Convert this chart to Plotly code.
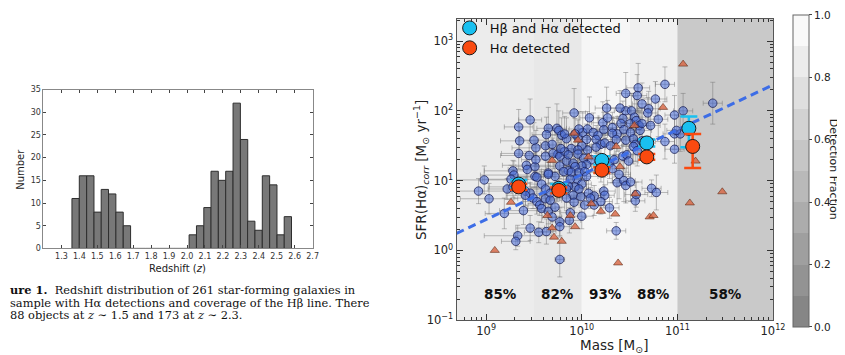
import numpy as np
import plotly.graph_objects as go

W, H = 845, 355

# ---------------- Left panel: redshift histogram ----------------
z_centers = [1.379, 1.420, 1.461, 1.502, 1.542, 1.583, 1.624, 1.665,
             1.706, 1.746, 1.787, 1.828, 1.869, 1.910, 1.950, 1.991,
             2.032, 2.073, 2.114, 2.154, 2.195, 2.236, 2.277, 2.318,
             2.358, 2.399, 2.440, 2.481, 2.522, 2.562]
z_counts = [11, 16, 16, 8, 13, 12, 8, 5,
            0, 0, 0, 0, 0, 0, 0, 0,
            3, 5, 9, 17, 15, 17, 32, 24, 6, 4, 16, 14, 3, 7]
z_bin_width = 0.0408
z_ticks = [1.3, 1.4, 1.5, 1.6, 1.7, 1.8, 1.9, 2.0, 2.1, 2.2, 2.3, 2.4, 2.5, 2.6, 2.7]
count_ticks = [0, 5, 10, 15, 20, 25, 30, 35]
caption_lines = [
    "<b>ure 1.</b>  Redshift distribution of 261 star-forming galaxies in",
    "sample with Hα detections and coverage of the Hβ line. There",
    "88 objects at <i>z</i> ∼ 1.5 and 173 at <i>z</i> ∼ 2.3.",
]

# ---------------- Right panel: SFR vs stellar mass ----------------
gal_logm = [
    9.46, 9.34, 9.74, 9.35, 9.52, 9.62, 9.69, 9.34, 9.45, 9.75,
    9.42, 9.51, 9.28, 9.29, 9.65, 9.72, 9.51, 8.98, 8.92, 9.03,
    9.22, 9.28, 9.41, 9.46, 9.58, 9.62, 9.67, 9.74, 9.49, 9.53,
    9.56, 9.58, 9.39, 9.19, 9.65, 9.72, 9.46, 9.55, 9.63, 9.77,
    9.33, 9.31, 9.77, 9.26, 9.52, 9.65, 9.63, 9.76, 9.79, 9.84,
    9.89, 9.96, 10.01, 10.06, 10.12, 10.17, 10.22, 10.27, 10.26, 10.32,
    10.37, 10.08, 9.92, 9.62, 9.70, 9.77, 9.84, 9.91, 9.77, 9.86,
    9.65, 9.53, 9.43, 9.50, 10.46, 10.59, 10.58, 10.46, 10.52, 10.55,
    10.43, 10.41, 10.51, 10.57, 10.60, 10.44, 10.51, 10.61, 10.32, 10.23,
    9.97, 9.93, 9.82, 10.05, 10.15, 10.20, 10.24, 10.30, 10.36, 10.46,
    10.54, 10.56, 10.15, 10.06, 10.00, 9.96, 9.82, 9.78, 9.86, 9.96,
    10.02, 10.10, 10.05, 10.00, 9.93, 9.81, 9.89, 9.97, 10.03, 10.05,
    9.95, 9.88, 10.00, 9.93, 9.86, 9.91, 9.99, 10.07, 10.13, 10.23,
    10.24, 10.03, 10.13, 10.20, 10.29, 10.00, 9.88, 9.87, 10.36, 10.39,
    10.37, 10.44, 10.46, 10.51, 10.56, 10.57, 10.20, 10.29, 10.34, 10.32,
    10.43, 10.47, 10.49, 10.54, 10.58, 10.63, 9.69, 9.77, 9.92, 10.73,
    10.78, 9.41, 9.62, 9.67, 9.84, 10.09, 9.97, 9.84, 10.87, 11.37,
    10.77, 10.63, 10.70, 10.69, 10.80, 10.97, 11.06, 10.87, 10.97, 11.03,
    10.99, 10.97, 10.72, 10.63, 10.40,
]
gal_logsfr = [
    1.87, 1.77, 1.75, 1.57, 1.47, 1.50, 1.52, 1.39, 1.36, 1.38,
    1.22, 1.20, 1.14, 1.08, 1.11, 1.06, 1.06, 1.01, 0.85, 0.74,
    0.88, 0.91, 0.85, 0.82, 0.95, 0.88, 0.82, 0.85, 0.75, 0.70,
    0.65, 0.60, 0.57, 0.53, 0.56, 0.62, 0.32, 0.26, 0.27, 0.41,
    0.21, 0.13, -0.13, 1.02, 1.30, 1.75, 1.66, 1.72, 1.65, 1.60,
    1.46, 1.62, 1.69, 1.74, 1.69, 1.65, 1.83, 1.90, 2.04, 1.76,
    1.67, 1.90, 1.97, 1.35, 1.39, 1.35, 1.28, 1.25, 1.21, 1.14,
    1.09, 1.05, 1.16, 1.58, 2.25, 2.33, 2.22, 2.00, 2.00, 1.91,
    1.89, 1.82, 1.82, 1.86, 1.79, 1.73, 1.69, 1.72, 1.68, 1.73,
    1.74, 1.67, 1.67, 1.59, 1.59, 1.52, 1.54, 1.50, 1.59, 1.58,
    1.60, 1.52, 1.48, 1.44, 1.50, 1.44, 1.42, 1.46, 1.37, 1.38,
    1.32, 1.30, 1.23, 1.21, 1.20, 1.13, 1.12, 1.12, 1.13, 1.06,
    1.02, 1.02, 0.95, 0.91, 0.92, 0.79, 0.77, 0.82, 0.78, 0.85,
    0.79, 0.65, 0.65, 0.70, 0.61, 0.49, 0.54, 0.43, 0.28, 1.09,
    0.97, 1.00, 0.93, 0.98, 0.71, 0.80, 1.18, 1.25, 1.30, 1.17,
    1.35, 1.37, 1.28, 1.49, 1.43, 1.57, 0.48, 0.34, 0.69, 0.89,
    0.83, 0.79, 0.74, 0.72, 0.75, 0.75, 0.88, 0.88, 2.38, 2.11,
    2.17, 2.10, 2.03, 1.97, 1.88, 1.94, 2.00, 1.56, 1.67, 1.67,
    1.72, 1.45, 1.79, 1.82, 2.04,
]
gal_dm = [
    .12, .15, .10, .20, .25, .15, .12, .18, .30, .10,
    .25, .20, .30, .35, .15, .12, .20, .30, .35, .30,
    .20, .25, .18, .15, .12, .15, .10, .12, .20, .15,
    .12, .15, .25, .20, .12, .10, .15, .15, .10, .10,
    .35, .15, .05, .30, .15, .12, .15, .10, .12, .10,
    .15, .10, .12, .10, .15, .10, .12, .10, .12, .10,
    .12, .10, .12, .15, .12, .10, .12, .10, .12, .10,
    .15, .20, .20, .15, .10, .12, .10, .12, .10, .12,
    .10, .12, .10, .12, .10, .12, .10, .12, .10, .12,
    .10, .12, .10, .12, .10, .12, .10, .12, .10, .12,
    .10, .12, .10, .12, .10, .12, .10, .12, .10, .12,
    .10, .12, .10, .12, .10, .12, .10, .12, .10, .12,
    .10, .12, .10, .12, .10, .12, .10, .12, .10, .12,
    .10, .12, .10, .12, .10, .12, .10, .12, .10, .12,
    .10, .12, .10, .12, .10, .12, .10, .12, .10, .12,
    .10, .12, .10, .12, .10, .12, .10, .12, .10, .10,
    .12, .20, .15, .12, .10, .12, .10, .12, .10, .10,
    .12, .10, .12, .10, .10, .10, .10, .10, .12, .10,
    .10, .10, .10, .12, .10,
]
gal_dsfr = [
    .30, .25, .35, .20, .25, .20, .25, .22, .18, .20,
    .20, .18, .15, .20, .15, .18, .15, .20, .18, .22,
    .15, .15, .20, .15, .18, .20, .15, .15, .15, .18,
    .15, .20, .20, .22, .18, .15, .18, .15, .18, .20,
    .15, .12, .25, .20, .25, .30, .25, .28, .25, .30,
    .20, .25, .30, .25, .28, .25, .30, .25, .30, .22,
    .25, .30, .35, .20, .22, .20, .18, .20, .18, .20,
    .18, .15, .20, .25, .30, .35, .30, .28, .25, .30,
    .25, .22, .25, .30, .25, .22, .25, .28, .22, .25,
    .25, .22, .25, .22, .20, .22, .20, .25, .22, .25,
    .22, .25, .20, .18, .20, .22, .20, .18, .20, .18,
    .20, .18, .20, .18, .15, .18, .15, .18, .15, .18,
    .15, .18, .15, .18, .15, .18, .15, .18, .15, .20,
    .15, .18, .15, .18, .15, .18, .15, .18, .12, .35,
    .30, .30, .25, .28, .15, .18, .20, .22, .25, .20,
    .28, .25, .22, .25, .22, .25, .18, .15, .15, .12,
    .25, .15, .18, .15, .18, .15, .15, .18, .25, .30,
    .25, .30, .25, .22, .25, .28, .25, .25, .22, .25,
    .22, .20, .25, .22, .25,
]

tri_logm = [9.69, 9.26, 9.64, 9.69, 9.71, 9.09, 9.79, 9.88, 9.93, 10.10,
            10.20, 10.35, 10.38, 10.56, 10.71, 10.75, 11.13, 9.92, 9.96, 10.07,
            10.36, 10.40, 10.55, 11.06, 10.85, 11.19, 11.47]
tri_logsfr = [1.29, 0.69, 0.50, 0.32, 0.19, 0.00, 0.13, 0.50, 0.34, 0.67,
              0.56, 0.52, -0.18, 0.81, 0.48, 0.50, 0.68, 1.68, 1.58, 1.34,
              1.49, 1.20, 1.79, 2.67, 2.05, 1.28, 0.84]

hb_bin_logm = [9.34, 9.76, 10.21, 10.68, 11.12]
hb_bin_logsfr = [0.95, 0.89, 1.29, 1.54, 1.75]
hb_err_up = [0.06, 0.06, 0.06, 0.05, 0.17]
hb_err_dn = [0.06, 0.06, 0.06, 0.05, 0.27]
ha_bin_logm = [9.34, 9.76, 10.21, 10.68, 11.16]
ha_bin_logsfr = [0.91, 0.86, 1.15, 1.34, 1.49]
ha_err_up = [0.04, 0.04, 0.04, 0.04, 0.18]
ha_err_dn = [0.04, 0.04, 0.04, 0.04, 0.31]

fit_slope = 0.643
fit_logsfr_at_1e10 = 1.086

band_edges_logm = [8.8, 9.5, 10.0, 10.5, 11.0, 12.0]
detection_fraction = [0.85, 0.82, 0.93, 0.88, 0.58]
pct_labels = ["85%", "82%", "93%", "88%", "58%"]
pct_label_logsfr = -0.63

x_range_log = [8.69, 12.0]
y_range_log = [-1.0, 3.32]

FONT = "DejaVu Sans"


def gray_of(frac):
    g = int(round(255 * (0.5 + 0.5 * frac)))
    return f"rgb({g},{g},{g})"


def px_x(p):
    return p / W


def px_y(p):
    return 1 - p / H


fig = go.Figure()

# ---- histogram ----
fig.add_trace(go.Bar(
    x=z_centers, y=z_counts, width=z_bin_width,
    marker=dict(color="#787878", line=dict(color="#2e2e2e", width=1)),
    xaxis="x", yaxis="y", showlegend=False, hoverinfo="x+y"))

# ---- scatter of individual galaxies ----
m = 10 ** np.array(gal_logm)
s = 10 ** np.array(gal_logsfr)
dm = np.array(gal_dm)
ds = np.array(gal_dsfr)
fig.add_trace(go.Scatter(
    x=m, y=s, mode="markers", xaxis="x2", yaxis="y2", showlegend=False,
    marker=dict(size=8.5, color="rgba(70,105,215,0.55)",
                line=dict(color="rgba(25,30,80,0.75)", width=1)),
    error_x=dict(type="data", symmetric=False,
                 array=10 ** (np.array(gal_logm) + dm) - m,
                 arrayminus=m - 10 ** (np.array(gal_logm) - dm),
                 color="rgba(110,110,110,0.45)", thickness=1, width=2.5),
    error_y=dict(type="data", symmetric=False,
                 array=10 ** (np.array(gal_logsfr) + ds) - s,
                 arrayminus=s - 10 ** (np.array(gal_logsfr) - ds),
                 color="rgba(110,110,110,0.45)", thickness=1, width=2.5),
))

fig.add_trace(go.Scatter(
    x=10 ** np.array(tri_logm), y=10 ** np.array(tri_logsfr), mode="markers",
    xaxis="x2", yaxis="y2", showlegend=False,
    marker=dict(symbol="triangle-up", size=8, color="rgba(215,100,65,0.8)",
                line=dict(color="rgba(90,40,20,0.7)", width=0.8))))

# ---- main-sequence fit line ----
fit_logm = np.array(x_range_log)
fit_logsfr = fit_logsfr_at_1e10 + fit_slope * (fit_logm - 10.0)
fig.add_trace(go.Scatter(
    x=10 ** fit_logm, y=10 ** fit_logsfr, mode="lines", xaxis="x2", yaxis="y2",
    showlegend=False, hoverinfo="skip",
    line=dict(color="#3d6de6", width=3, dash="8px,5px")))

# ---- binned values ----
hb_y = 10 ** np.array(hb_bin_logsfr)
fig.add_trace(go.Scatter(
    x=10 ** np.array(hb_bin_logm), y=hb_y, mode="markers", xaxis="x2", yaxis="y2",
    name="Hβ and Hα detected",
    marker=dict(size=14, color="#19c0f0", line=dict(color="#1a1a1a", width=1)),
    error_y=dict(type="data", symmetric=False,
                 array=10 ** (np.array(hb_bin_logsfr) + np.array(hb_err_up)) - hb_y,
                 arrayminus=hb_y - 10 ** (np.array(hb_bin_logsfr) - np.array(hb_err_dn)),
                 color="#19c0f0", thickness=2.5, width=8.5)))
ha_y = 10 ** np.array(ha_bin_logsfr)
fig.add_trace(go.Scatter(
    x=10 ** np.array(ha_bin_logm), y=ha_y, mode="markers", xaxis="x2", yaxis="y2",
    name="Hα detected",
    marker=dict(size=14, color="#fa4a10", line=dict(color="#1a1a1a", width=1)),
    error_y=dict(type="data", symmetric=False,
                 array=10 ** (np.array(ha_bin_logsfr) + np.array(ha_err_up)) - ha_y,
                 arrayminus=ha_y - 10 ** (np.array(ha_bin_logsfr) - np.array(ha_err_dn)),
                 color="#fa4a10", thickness=2.5, width=8.5)))

# ---- colour bar (via a hidden point) ----
cscale = []
for i in range(10):
    c = gray_of((i + 0.5) / 10)
    cscale.append([i / 10, c])
    cscale.append([(i + 1) / 10, c])
fig.add_trace(go.Scatter(
    x=[1e10], y=[1e-5], mode="markers", xaxis="x2", yaxis="y2", showlegend=False,
    hoverinfo="skip",
    marker=dict(size=1, color=[0.5], colorscale=cscale, cmin=0, cmax=1, showscale=True,
                colorbar=dict(thickness=16, thicknessmode="pixels", len=312, lenmode="pixels",
                              x=px_x(796), xanchor="left", y=px_y(164), yanchor="middle",
                              xpad=0, ypad=0, outlinecolor="#666", outlinewidth=1,
                              ticks="outside", ticklen=3, tickcolor="#444",
                              tickvals=[0, 0.2, 0.4, 0.6, 0.8, 1.0],
                              ticktext=["0.0", "0.2", "0.4", "0.6", "0.8", "1.0"],
                              tickfont=dict(size=10.5, family=FONT, color="#222")))))

# ---- background detection-fraction bands ----
shapes = []
for i, f in enumerate(detection_fraction):
    lo = band_edges_logm[i]
    if i == 0:
        lo = min(lo, x_range_log[0])
    shapes.append(dict(type="rect", xref="x2", yref="y2 domain",
                       x0=10 ** lo, x1=10 ** band_edges_logm[i + 1], y0=0, y1=1,
                       fillcolor=gray_of(f), line=dict(width=0), layer="below"))

annotations = []
for i, lab in enumerate(pct_labels):
    cx = 0.5 * (band_edges_logm[i] + band_edges_logm[i + 1])
    annotations.append(dict(x=cx, y=pct_label_logsfr, xref="x2", yref="y2", text=f"<b>{lab}</b>",
                            xanchor="center", yanchor="middle",
                            showarrow=False, font=dict(size=13.5, family=FONT, color="#111")))


def paper_text(x, y, text, size, angle=0, family=FONT):
    return dict(x=px_x(x), y=px_y(y), xref="paper", yref="paper", text=text,
                textangle=angle, xanchor="center", yanchor="middle", showarrow=False,
                font=dict(size=size, family=family, color="#222"))


annotations += [
    paper_text(13, 162, "Number", 10, -90),
    paper_text(172, 265, "Redshift (<i>z</i>)", 10),
    paper_text(419, 163, "SFR(Hα)<sub><i>corr</i></sub> [M<sub>⊙</sub> yr<sup>−1</sup>]", 13.5, -90),
    paper_text(615, 345, "Mass [M<sub>⊙</sub>]", 13.5),
    paper_text(837, 162, "Detection Fraction", 11, 90),
]
for j, line in enumerate(caption_lines):
    annotations.append(dict(x=0, y=px_y(287 + 12.8 * j), xref="paper", yref="paper",
                            xanchor="left", yanchor="middle", text=line, showarrow=False,
                            font=dict(size=11.4, family="DejaVu Serif", color="#111")))

minor_x = [k * 10 ** d for d in range(8, 12) for k in range(2, 10)]
minor_y = [k * 10 ** d for d in range(-1, 3) for k in range(2, 10)] + [2000]

fig.update_layout(
    width=W, height=H, margin=dict(l=0, r=0, t=0, b=0), autosize=False,
    paper_bgcolor="white", plot_bgcolor="white",
    font=dict(family=FONT, color="#222"),
    shapes=shapes, annotations=annotations,
    xaxis=dict(domain=[px_x(36), px_x(309)], range=[1.2, 2.7], anchor="y",
               tickmode="array", tickvals=z_ticks, ticktext=[f"{t:.1f}" for t in z_ticks],
               ticks="inside", ticklen=3, tickcolor="#444", showline=True, linecolor="#888",
               mirror="ticks", showgrid=False, zeroline=False,
               tickfont=dict(size=8, family=FONT, color="#333")),
    yaxis=dict(domain=[px_y(244), px_y(80)], range=[0, 35], anchor="x",
               tickmode="array", tickvals=count_ticks,
               ticks="inside", ticklen=3, tickcolor="#444", showline=True, linecolor="#888",
               mirror="ticks", showgrid=False, zeroline=False,
               tickfont=dict(size=8, family=FONT, color="#333")),
    xaxis2=dict(domain=[px_x(455), px_x(776)], type="log", range=x_range_log, anchor="y2",
                tickmode="array", tickvals=[1e9, 1e10, 1e11, 1e12],
                ticktext=["10<sup>9</sup>", "10<sup>10</sup>", "10<sup>11</sup>", "10<sup>12</sup>"],
                ticks="inside", ticklen=6, tickcolor="#333", showline=True, linecolor="#555",
                mirror="allticks", showgrid=False, zeroline=False,
                minor=dict(ticks="inside", ticklen=3, tickcolor="#333", tickmode="array",
                           tickvals=minor_x, showgrid=False),
                tickfont=dict(size=11.5, family=FONT, color="#222")),
    yaxis2=dict(domain=[px_y(318), px_y(7)], type="log", range=y_range_log, anchor="x2",
                tickmode="array", tickvals=[0.1, 1, 10, 100, 1000],
                ticktext=["10<sup>−1</sup>", "10<sup>0</sup>", "10<sup>1</sup>", "10<sup>2</sup>",
                          "10<sup>3</sup>"],
                ticks="inside", ticklen=6, tickcolor="#333", showline=True, linecolor="#555",
                mirror="allticks", showgrid=False, zeroline=False,
                minor=dict(ticks="inside", ticklen=3, tickcolor="#333", tickmode="array",
                           tickvals=minor_y, showgrid=False),
                tickfont=dict(size=11.5, family=FONT, color="#222")),
    legend=dict(x=px_x(448), y=px_y(1), xanchor="left", yanchor="top",
                bgcolor="rgba(0,0,0,0)", font=dict(size=13, family=FONT, color="#111"),
                tracegroupgap=0),
)

fig.write_html("out.html")
